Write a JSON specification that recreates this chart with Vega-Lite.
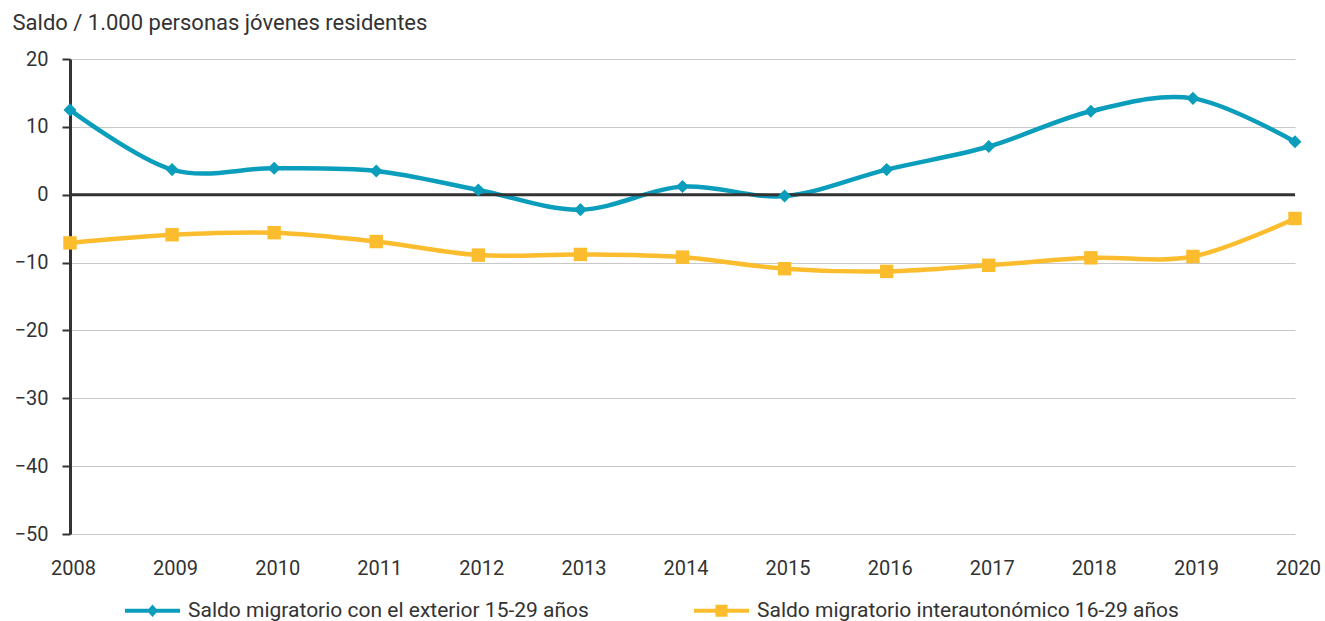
{
  "$schema": "https://vega.github.io/schema/vega-lite/v6.json",
  "width": 1225,
  "height": 475,
  "autosize": {"type": "none"},
  "padding": {"left": 70, "top": 59, "right": 30, "bottom": 87},
  "background": "white",
  "config": {
    "view": {"stroke": null},
    "font": "Roboto",
    "axis": {"labelFont": "Roboto", "titleFont": "Roboto", "labelColor": "#333333", "titleColor": "#333333"}
  },
  "datasets": {
    "series": [
      {"year": "2008", "serie": "Saldo migratorio con el exterior 15-29 años", "value": 12.5},
      {"year": "2009", "serie": "Saldo migratorio con el exterior 15-29 años", "value": 3.7},
      {"year": "2010", "serie": "Saldo migratorio con el exterior 15-29 años", "value": 3.9},
      {"year": "2011", "serie": "Saldo migratorio con el exterior 15-29 años", "value": 3.5},
      {"year": "2012", "serie": "Saldo migratorio con el exterior 15-29 años", "value": 0.7},
      {"year": "2013", "serie": "Saldo migratorio con el exterior 15-29 años", "value": -2.2},
      {"year": "2014", "serie": "Saldo migratorio con el exterior 15-29 años", "value": 1.2},
      {"year": "2015", "serie": "Saldo migratorio con el exterior 15-29 años", "value": -0.2},
      {"year": "2016", "serie": "Saldo migratorio con el exterior 15-29 años", "value": 3.7},
      {"year": "2017", "serie": "Saldo migratorio con el exterior 15-29 años", "value": 7.1},
      {"year": "2018", "serie": "Saldo migratorio con el exterior 15-29 años", "value": 12.3},
      {"year": "2019", "serie": "Saldo migratorio con el exterior 15-29 años", "value": 14.2},
      {"year": "2020", "serie": "Saldo migratorio con el exterior 15-29 años", "value": 7.8},
      {"year": "2008", "serie": "Saldo migratorio interautonómico 16-29 años", "value": -7.1},
      {"year": "2009", "serie": "Saldo migratorio interautonómico 16-29 años", "value": -5.9},
      {"year": "2010", "serie": "Saldo migratorio interautonómico 16-29 años", "value": -5.6},
      {"year": "2011", "serie": "Saldo migratorio interautonómico 16-29 años", "value": -6.9},
      {"year": "2012", "serie": "Saldo migratorio interautonómico 16-29 años", "value": -8.9},
      {"year": "2013", "serie": "Saldo migratorio interautonómico 16-29 años", "value": -8.8},
      {"year": "2014", "serie": "Saldo migratorio interautonómico 16-29 años", "value": -9.2},
      {"year": "2015", "serie": "Saldo migratorio interautonómico 16-29 años", "value": -10.9},
      {"year": "2016", "serie": "Saldo migratorio interautonómico 16-29 años", "value": -11.3},
      {"year": "2017", "serie": "Saldo migratorio interautonómico 16-29 años", "value": -10.4},
      {"year": "2018", "serie": "Saldo migratorio interautonómico 16-29 años", "value": -9.3},
      {"year": "2019", "serie": "Saldo migratorio interautonómico 16-29 años", "value": -9.1},
      {"year": "2020", "serie": "Saldo migratorio interautonómico 16-29 años", "value": -3.5}
    ],
    "zero": [{"y": 0}]
  },
  "layer": [
    {
      "data": {"name": "series"},
      "mark": {"type": "line", "strokeWidth": 4.5, "interpolate": "cardinal"},
      "encoding": {
        "x": {
          "field": "year", "type": "ordinal", "title": null,
          "scale": {"type": "point", "padding": 0},
          "axis": {"labelAngle": 0, "labelFontSize": 20, "labelPadding": 24, "domain": false, "ticks": false, "grid": false, "labelOffset": 3}
        },
        "y": {
          "field": "value", "type": "quantitative",
          "scale": {"domain": [-50, 20], "nice": false},
          "axis": {
            "values": [-50, -40, -30, -20, -10, 0, 10, 20],
            "title": "Saldo / 1.000 personas jóvenes residentes",
            "titleAngle": 0, "titleAlign": "left", "titleBaseline": "alphabetic",
            "titleX": -58, "titleY": -30, "titleFontSize": 22, "titleFontWeight": "normal",
            "labelFontSize": 20, "labelPadding": 14,
            "domain": true, "domainColor": "#333333", "domainWidth": 3,
            "ticks": true, "tickColor": "#333333", "tickWidth": 2, "tickSize": 8,
            "grid": true, "gridColor": "#c8c8c8", "gridWidth": 1
          }
        },
        "color": {
          "field": "serie", "type": "nominal",
          "scale": {"range": ["#0a9dbc", "#fbbd2e"]},
          "legend": {
            "orient": "none", "legendX": 55, "legendY": 524, "direction": "horizontal",
            "title": null, "labelFontSize": 21, "labelColor": "#333333", "labelOffset": 8, "labelLimit": 0,
            "columnPadding": 105, "symbolSize": 3025, "symbolStrokeWidth": 0,
            "encode": {
              "symbols": {
                "update": {
                  "shape": {"signal": "datum.value === 'Saldo migratorio con el exterior 15-29 años' ? 'M-1,-0.075L1,-0.075L1,0.075L-1,0.075Z M0,-0.23L0.2,0L0,0.23L-0.2,0Z' : 'M-1,-0.075L1,-0.075L1,0.075L-1,0.075Z M-0.22,-0.22L0.22,-0.22L0.22,0.22L-0.22,0.22Z'"},
                  "fill": {"signal": "datum.value === 'Saldo migratorio con el exterior 15-29 años' ? '#0a9dbc' : '#fbbd2e'"},
                  "stroke": {"value": "transparent"},
                  "opacity": {"value": 1}
                }
              }
            }
          }
        }
      }
    },
    {
      "data": {"name": "zero"},
      "mark": {"type": "rule", "color": "#333333", "strokeWidth": 3},
      "encoding": {"y": {"field": "y", "type": "quantitative"}}
    },
    {
      "data": {"name": "series"},
      "mark": {"type": "point", "filled": true, "opacity": 1},
      "encoding": {
        "x": {"field": "year", "type": "ordinal"},
        "y": {"field": "value", "type": "quantitative"},
        "color": {"field": "serie", "type": "nominal"},
        "shape": {"field": "serie", "type": "nominal", "scale": {"range": ["diamond", "square"]}, "legend": null},
        "size": {"field": "serie", "type": "nominal", "scale": {"range": [170, 180]}, "legend": null}
      }
    }
  ]
}
